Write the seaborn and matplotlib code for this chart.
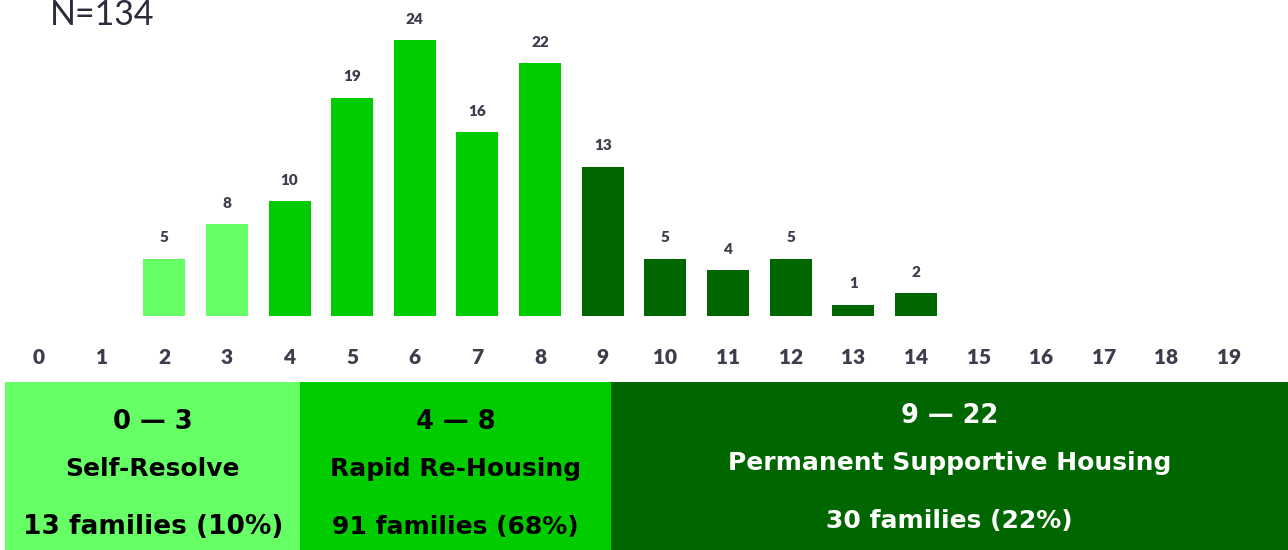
import matplotlib
matplotlib.use("Agg")
import matplotlib.pyplot as plt
import seaborn as sns
import pandas as pd

# ---- data ----
categories = [str(i) for i in range(20)]
counts = [0, 0, 5, 8, 10, 19, 24, 16, 22, 13, 5, 4, 5, 1, 2, 0, 0, 0, 0, 0]
groups = ["self"] * 4 + ["rapid"] * 5 + ["psh"] * 11
group_colors = {"self": "#66FF66", "rapid": "#00CC00", "psh": "#006600"}
band_ranges = ["0 \u2014 3", "4 \u2014 8", "9 \u2014 22"]
band_names = ["Self-Resolve", "Rapid Re-Housing", "Permanent Supportive Housing"]
band_counts = ["13 families (10%)", "91 families (68%)", "30 families (22%)"]
band_keys = ["self", "rapid", "psh"]
band_edges = [-0.54, 4.17, 9.13, 19.95]
band_text_colors = ["black", "black", "white"]
title = "N=134"

df = pd.DataFrame({"cat": categories, "count": counts, "group": groups})

sns.set_theme(style="white")
plt.rcParams["font.family"] = ["Lato", "DejaVu Sans"]

W, H = 1288, 550
fig = plt.figure(figsize=(W / 100, H / 100), dpi=100)
base_px = 316
ax = fig.add_axes([0, (H - base_px) / H, 1, base_px / H])
xlim = (-0.623, 19.94)

sns.barplot(data=df, x="cat", y="count", hue="group", palette=group_colors,
            dodge=False, width=0.67, linewidth=0, saturation=1, legend=False,
            ax=ax, order=categories)
ax.set_xlim(*xlim)
ax.set_ylim(0, base_px / 11.5)
for s in ax.spines.values():
    s.set_visible(False)
ax.set_yticks([])
ax.set_xlabel("")
ax.set_ylabel("")
ax.tick_params(axis="x", length=0, pad=23, labelsize=15, labelcolor="#3d3d4d")
for lab in ax.get_xticklabels():
    lab.set_fontweight("heavy")

for i, v in enumerate(counts):
    if v > 0:
        ax.annotate(str(v), (i, v), xytext=(0, 15), textcoords="offset points",
                    ha="center", va="center", fontsize=11, fontweight="heavy",
                    color="#3d3d4d")

fig.text(50 / W, 1 - 25 / H, title, fontsize=24.5, color="#2b2b3b",
         ha="left", va="baseline")

# ---- bottom bands ----
band_px = H - 382
ax2 = fig.add_axes([0, 0, 1, band_px / H])
ax2.set_xlim(*xlim)
ax2.set_ylim(0, 1)
ax2.axis("off")
band_font = ["DejaVu Sans"]
for k in range(3):
    x0, x1 = band_edges[k], band_edges[k + 1]
    ax2.axvspan(x0, x1, color=group_colors[band_keys[k]], lw=0)
    xc = (x0 + x1) / 2
    c = band_text_colors[k]
    y_off = 0.035 if k == 2 else 0.0
    ax2.text(xc, 0.76 + y_off, band_ranges[k], ha="center", va="center",
             fontsize=18.5, fontweight="bold", color=c, family=band_font)
    ax2.text(xc, 0.48 + y_off, band_names[k], ha="center", va="center",
             fontsize=18, fontweight="bold", color=c, family=band_font)
    ax2.text(xc, 0.135 + y_off, band_counts[k], ha="center", va="center",
             fontsize=19 if k == 0 else 18, fontweight="bold", color=c,
             family=band_font)

fig.savefig("out.png", dpi=100)
